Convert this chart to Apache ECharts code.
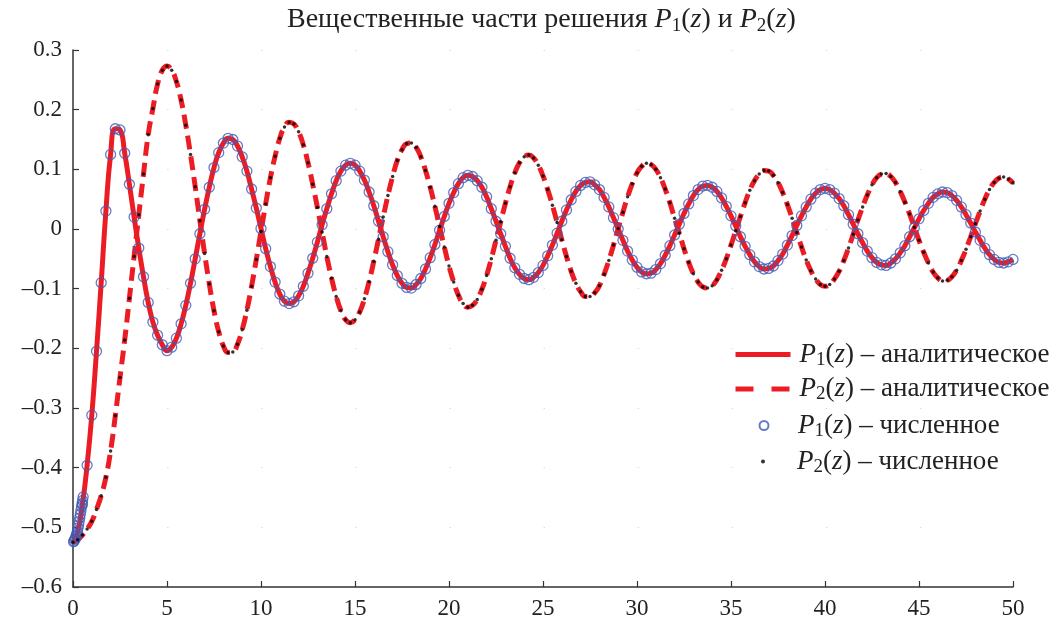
<!DOCTYPE html>
<html>
<head>
<meta charset="utf-8">
<script type="text/javascript" src="https://cdn.jsdelivr.net/npm/echarts/dist/echarts.min.js"></script>
</head>
<body style="margin:0;background:#fff">
<div id="main" style="width:1060px;height:621px;"></div>
<script type="text/javascript">
// шаг по z для всех массивов
var zStep = 0.25;

// P1(z), значения с графика, z = 0 ... 50
var p1Values = [
  -0.525,-0.507,-0.462,-0.396,-0.312,-0.205,-0.090,0.030,0.125,0.168,0.166,0.127,0.075,0.020,-0.032,-0.080,-0.123,-0.156,-0.178,-0.194,
  -0.204,-0.198,-0.183,-0.159,-0.128,-0.091,-0.050,-0.008,0.033,0.070,0.103,0.128,0.144,0.152,0.150,0.139,0.121,0.097,0.067,0.035,
  0.001,-0.033,-0.063,-0.089,-0.109,-0.121,-0.125,-0.122,-0.112,-0.096,-0.074,-0.049,-0.022,0.007,0.034,0.059,0.081,0.097,0.107,0.110,
  0.107,0.097,0.082,0.062,0.039,0.013,-0.013,-0.038,-0.060,-0.078,-0.091,-0.098,-0.099,-0.093,-0.083,-0.067,-0.048,-0.026,-0.002,0.021,
  0.043,0.061,0.076,0.086,0.090,0.088,0.081,0.070,0.054,0.034,0.013,-0.008,-0.029,-0.049,-0.065,-0.076,-0.083,-0.085,-0.081,-0.073,
  -0.061,-0.045,-0.027,-0.007,0.013,0.032,0.049,0.063,0.073,0.078,0.079,0.074,0.066,0.053,0.037,0.019,0.000,-0.019,-0.037,-0.052,
  -0.064,-0.072,-0.075,-0.074,-0.068,-0.058,-0.044,-0.028,-0.010,0.008,0.026,0.042,0.056,0.066,0.072,0.073,0.070,0.063,0.052,0.038,
  0.022,0.005,-0.013,-0.029,-0.043,-0.055,-0.063,-0.067,-0.066,-0.062,-0.053,-0.042,-0.027,-0.011,0.006,0.022,0.037,0.050,0.060,0.066,
  0.068,0.066,0.060,0.051,0.039,0.024,0.008,-0.008,-0.023,-0.037,-0.048,-0.056,-0.060,-0.061,-0.057,-0.050,-0.040,-0.028,-0.013,0.002,
  0.017,0.031,0.043,0.053,0.059,0.062,0.061,0.056,0.048,0.037,0.024,0.010,-0.005,-0.019,-0.032,-0.043,-0.051,-0.056,-0.057,-0.055,
  -0.051
];

// P2(z), значения с графика, z = 0 ... 50
var p2Values = [
  -0.525,-0.521,-0.513,-0.503,-0.490,-0.470,-0.447,-0.416,-0.372,-0.313,-0.249,-0.186,-0.116,-0.046,0.024,0.092,0.158,0.202,0.243,0.266,
  0.273,0.266,0.247,0.216,0.174,0.125,0.071,0.014,-0.041,-0.092,-0.137,-0.172,-0.196,-0.207,-0.206,-0.193,-0.169,-0.136,-0.096,-0.051,
  -0.004,0.042,0.086,0.122,0.152,0.171,0.179,0.176,0.163,0.141,0.111,0.075,0.036,-0.005,-0.046,-0.082,-0.113,-0.137,-0.152,-0.157,
  -0.152,-0.139,-0.117,-0.088,-0.054,-0.017,0.020,0.056,0.088,0.115,0.133,0.143,0.144,0.137,0.121,0.098,0.070,0.038,0.004,-0.030,
  -0.062,-0.089,-0.111,-0.125,-0.131,-0.128,-0.118,-0.101,-0.078,-0.050,-0.019,0.012,0.043,0.071,0.094,0.111,0.121,0.124,0.119,0.107,
  0.089,0.066,0.040,0.011,-0.018,-0.046,-0.071,-0.091,-0.105,-0.113,-0.113,-0.107,-0.095,-0.076,-0.053,-0.027,0.001,0.028,0.054,0.076,
  0.094,0.105,0.110,0.108,0.100,0.086,0.067,0.044,0.018,-0.007,-0.033,-0.056,-0.075,-0.089,-0.097,-0.099,-0.095,-0.085,-0.069,-0.050,
  -0.027,-0.003,0.021,0.044,0.065,0.081,0.092,0.098,0.097,0.090,0.078,0.061,0.041,0.018,-0.006,-0.030,-0.052,-0.070,-0.084,-0.093,
  -0.096,-0.093,-0.084,-0.071,-0.053,-0.032,-0.009,0.015,0.037,0.057,0.074,0.086,0.092,0.093,0.088,0.078,0.063,0.045,0.025,0.003,
  -0.019,-0.039,-0.057,-0.072,-0.082,-0.087,-0.086,-0.080,-0.069,-0.053,-0.034,-0.013,0.009,0.030,0.050,0.066,0.078,0.085,0.087,0.084,
  0.077
];

// густые точки численного P1 у самого начала
var p1StartZ = [0.03, 0.06, 0.09, 0.12, 0.15, 0.18, 0.21, 0.24, 0.27, 0.30, 0.33, 0.36, 0.39, 0.42, 0.45, 0.48, 0.51, 0.54];
var p1StartValues = [-0.524, -0.523, -0.521, -0.519, -0.516, -0.513, -0.510, -0.506, -0.501, -0.496, -0.490, -0.484, -0.478, -0.472, -0.466, -0.460, -0.455, -0.449];

var legendTexts = {
  P1a: '{g|}{i|P}{s|1}{n|(}{i|z}{n|) – аналитическое}',
  P2a: '{g|}{i|P}{s|2}{n|(}{i|z}{n|) – аналитическое}',
  P1n: '{g|}{i|P}{s|1}{n|(}{i|z}{n|) – численное}',
  P2n: '{g|}{i|P}{s|2}{n|(}{i|z}{n|) – численное}'
};

var serif = "'Liberation Serif', 'DejaVu Serif', serif";
var red = '#ec1c24';
var blue = '#3d5cb8';

function pairs(values) {
  return values.map(function (v, i) { return [i * zStep, v]; });
}

var p1Data = pairs(p1Values);
var p2Data = pairs(p2Values);
var p1NumData = p1StartZ.map(function (z, i) { return [z, p1StartValues[i]]; }).concat(p1Data.slice(2));

function richText(size, sub, lh, gap) {
  return {
    g: { width: gap, lineHeight: lh },
    n: { fontFamily: serif, fontSize: size, color: '#222', lineHeight: lh },
    i: { fontFamily: serif, fontSize: size, fontStyle: 'italic', color: '#222', lineHeight: lh },
    s: { fontFamily: serif, fontSize: sub, color: '#222', lineHeight: lh, verticalAlign: 'bottom' }
  };
}

function legendBlock(data, left, top, w, h, gap, itemGap) {
  return {
    data: data,
    orient: 'vertical',
    left: left,
    top: top,
    padding: 0,
    itemWidth: w,
    itemHeight: h,
    itemGap: itemGap,
    selectedMode: false,
    formatter: function (name) { return legendTexts[name]; },
    textStyle: { rich: richText(27, 19, 30, gap) }
  };
}

var myChart = echarts.init(document.getElementById('main'));
var option = {
  animation: false,
  backgroundColor: '#fff',
  title: {
    text: '{n|Вещественные части решения }{i|P}{s|1}{n|(}{i|z}{n|) и }{i|P}{s|2}{n|(}{i|z}{n|)}',
    left: 287,
    top: 4,
    padding: 0,
    textStyle: { fontWeight: 'normal', rich: richText(28, 19, 32, 0) }
  },
  grid: { left: 73, right: 47, top: 50, bottom: 34 },
  legend: [
    legendBlock([
      { name: 'P1a', itemStyle: { opacity: 0 }, lineStyle: { color: red, width: 5 } },
      { name: 'P2a', itemStyle: { opacity: 0 }, lineStyle: { color: red, width: 5, type: [18, 18] } }
    ], 733, 341, 55, 14, 4, 6),
    legendBlock(['P1n'], 758.5, 412, 9, 9, 24.5, 5),
    legendBlock(['P2n'], 761, 448, 4, 4, 27, 5)
  ],
  xAxis: {
    type: 'value',
    min: 0,
    max: 50,
    interval: 5,
    axisLine: { onZero: false, lineStyle: { color: '#333', width: 1.5 } },
    axisTick: { inside: true, length: 6, lineStyle: { color: '#333', width: 1.2 } },
    axisLabel: { fontFamily: serif, fontSize: 23, color: '#222', margin: 10 },
    splitLine: { show: false }
  },
  yAxis: {
    type: 'value',
    min: -0.6,
    max: 0.3,
    interval: 0.1,
    axisLine: { show: true, lineStyle: { color: '#333', width: 1.5 } },
    axisTick: { show: true, inside: true, length: 6, lineStyle: { color: '#333', width: 1.2 } },
    axisLabel: {
      fontFamily: serif, fontSize: 23, color: '#222', margin: 11,
      formatter: function (v) {
        if (Math.abs(v) < 1e-9) return '0';
        return (v < 0 ? '\u2013' : '') + Math.abs(v).toFixed(1);
      }
    },
    splitLine: { show: true, lineStyle: { color: '#dcdcdc', width: 1, type: [1.5, 92.6] } }
  },
  series: [
    {
      name: 'P2a', type: 'line', data: p2Data, smooth: true, symbol: 'none',
      lineStyle: { color: red, width: 5, type: [14, 7] }, itemStyle: { color: red }, z: 2
    },
    {
      name: 'P1a', type: 'line', data: p1Data, smooth: true, symbol: 'none',
      lineStyle: { color: red, width: 5 }, itemStyle: { color: red }, z: 2
    },
    {
      name: 'P1n', type: 'scatter', data: p1NumData, symbol: 'circle', symbolSize: 10,
      itemStyle: { color: 'rgba(0,0,0,0)', borderColor: blue, borderWidth: 1.3 }, z: 3
    },
    {
      name: 'P2n', type: 'scatter', data: p2Data, symbol: 'circle', symbolSize: 3.5,
      itemStyle: { color: '#000' }, z: 4
    }
  ]
};
myChart.setOption(option);
</script>
</body>
</html>
